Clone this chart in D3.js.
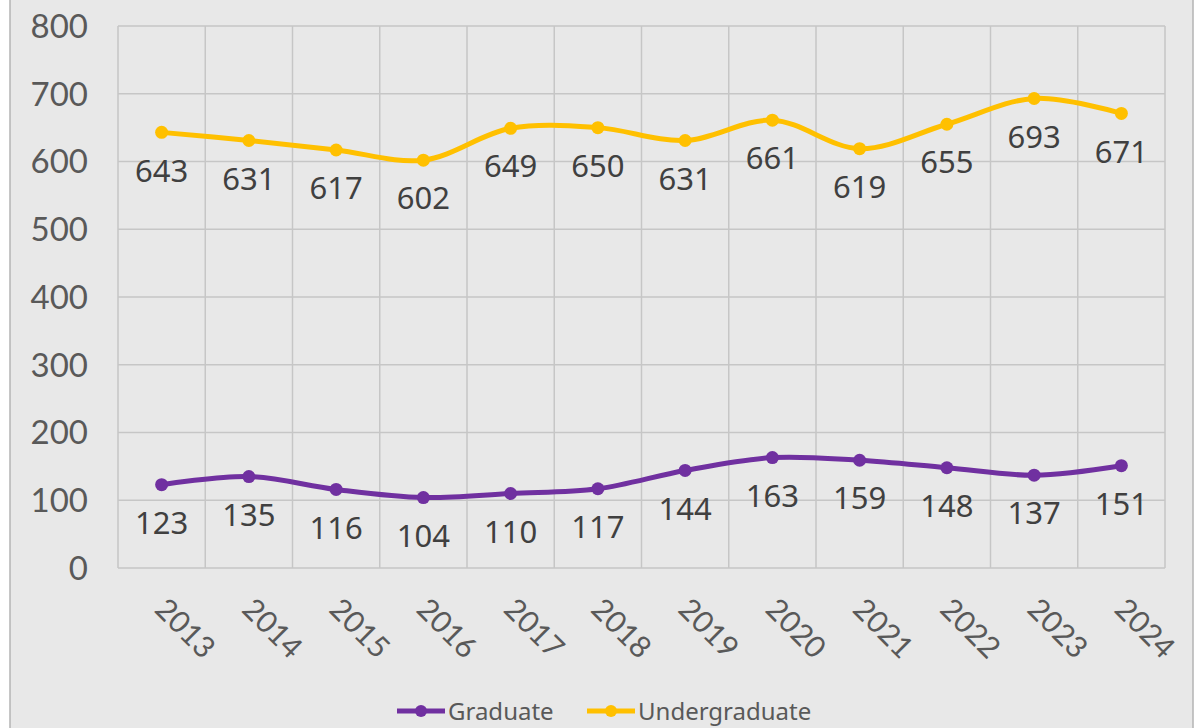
<!DOCTYPE html>
<html lang="en">
<head>
<meta charset="UTF-8" />
<title>Graduate and Undergraduate</title>
<script src="https://cdnjs.cloudflare.com/ajax/libs/d3/7.6.1/d3.min.js"></script>
<style>
  body { margin: 0; background: #fff; }
  svg { display: block; }
</style>
</head>
<body>
<div id="chart"></div>
<script>
const years = ["2013", "2014", "2015", "2016", "2017", "2018", "2019", "2020", "2021", "2022", "2023", "2024"];
const graduate = [123, 135, 116, 104, 110, 117, 144, 163, 159, 148, 137, 151];
const undergraduate = [643, 631, 617, 602, 649, 650, 631, 661, 619, 655, 693, 671];
const yTicks = [0, 100, 200, 300, 400, 500, 600, 700, 800];

const series = [
  { name: "Graduate", values: graduate, color: "#7030a0" },
  { name: "Undergraduate", values: undergraduate, color: "#ffc000" }
];

const width = 1196, height = 728;
const margin = { top: 26, right: 31, bottom: 160, left: 118 };

const svg = d3.select("#chart").append("svg")
  .attr("width", width)
  .attr("height", height);

// frame
svg.append("rect")
  .attr("x", 10).attr("y", -2)
  .attr("width", 1183).attr("height", height + 4)
  .attr("fill", "#e8e8e8")
  .attr("stroke", "#b4b4b4")
  .attr("stroke-width", 1.5);

const x = d3.scaleBand()
  .domain(years)
  .range([margin.left, width - margin.right]);

const y = d3.scaleLinear()
  .domain([0, 800])
  .range([height - margin.bottom, margin.top]);

// grid
const grid = svg.append("g").attr("stroke", "#c6c6c6").attr("stroke-width", 1.5);
grid.selectAll(".h").data(yTicks).join("line")
  .attr("x1", margin.left).attr("x2", width - margin.right)
  .attr("y1", d => y(d)).attr("y2", d => y(d));
grid.selectAll(".v").data(years.concat(["end"])).join("line")
  .attr("x1", (d, i) => margin.left + i * x.bandwidth())
  .attr("x2", (d, i) => margin.left + i * x.bandwidth())
  .attr("y1", y(0)).attr("y2", y(800));

// y axis labels
svg.append("g").selectAll("text").data(yTicks).join("text")
  .attr("x", 88).attr("y", d => y(d))
  .attr("dy", "0.36em")
  .attr("text-anchor", "end")
  .attr("font-family", "Lato, sans-serif")
  .attr("font-size", 33)
  .attr("fill", "#595959")
  .text(d => d);

// x axis labels
svg.append("g").selectAll("text").data(years).join("text")
  .attr("transform", d => `translate(${x(d) + x.bandwidth() / 2 + 24},${628}) rotate(45)`)
  .attr("dy", "0.36em")
  .attr("text-anchor", "middle")
  .attr("font-family", "Lato, sans-serif")
  .attr("font-size", 30)
  .attr("fill", "#595959")
  .text(d => d);

const cx = i => x(years[i]) + x.bandwidth() / 2;
const line = d3.line()
  .x((d, i) => cx(i))
  .y(d => y(d))
  .curve(d3.curveCatmullRom.alpha(0.5));

series.forEach(s => {
  const g = svg.append("g");
  g.append("path")
    .attr("d", line(s.values))
    .attr("fill", "none")
    .attr("stroke", s.color)
    .attr("stroke-width", 5);
  g.selectAll("circle").data(s.values).join("circle")
    .attr("cx", (d, i) => cx(i))
    .attr("cy", d => y(d))
    .attr("r", 6.5)
    .attr("fill", s.color);
  g.selectAll("text").data(s.values).join("text")
    .attr("x", (d, i) => cx(i))
    .attr("y", d => y(d) + 38)
    .attr("dy", "0.36em")
    .attr("text-anchor", "middle")
    .attr("font-family", "'Noto Sans', sans-serif")
    .attr("font-size", 31)
    .attr("fill", "#404040")
    .text(d => d);
});

// legend
const legendX = [397, 587];
const legend = svg.append("g").selectAll("g").data(series).join("g")
  .attr("transform", (d, i) => `translate(${legendX[i]},711)`);
legend.append("line")
  .attr("x1", 0).attr("x2", 48)
  .attr("stroke", d => d.color).attr("stroke-width", 5);
legend.append("circle")
  .attr("cx", 24).attr("r", 6).attr("fill", d => d.color);
legend.append("text")
  .attr("x", 51).attr("dy", "0.36em")
  .attr("font-family", "'Noto Sans', sans-serif")
  .attr("font-size", 24)
  .attr("fill", "#595959")
  .text(d => d.name);
</script>
</body>
</html>
